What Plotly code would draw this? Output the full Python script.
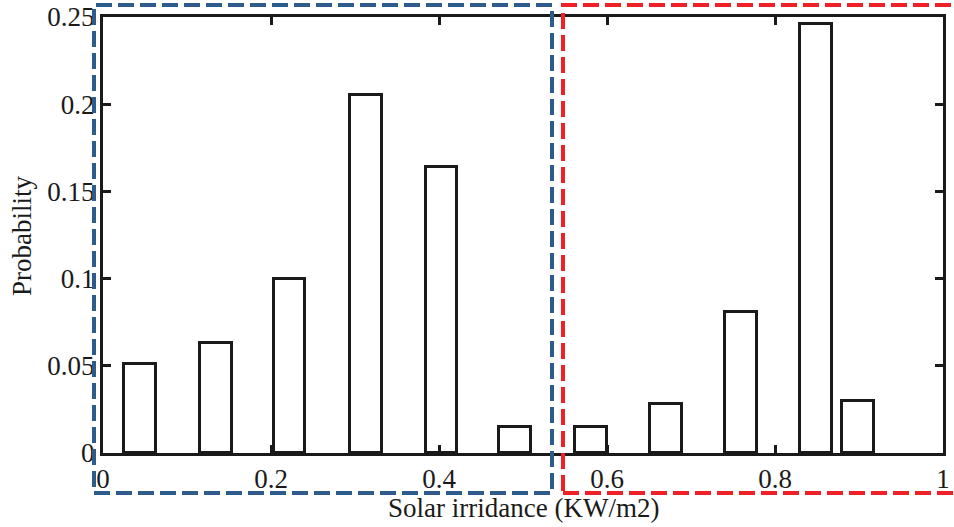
import plotly.graph_objects as go

# Data
irradiance = [0.044, 0.134, 0.222, 0.313, 0.403, 0.491, 0.581, 0.670, 0.760, 0.849, 0.899]
probability = [0.051, 0.063, 0.100, 0.205, 0.164, 0.015, 0.015, 0.028, 0.081, 0.246, 0.030]
x_ticks = [0, 0.2, 0.4, 0.6, 0.8, 1]
x_tick_labels = ["0", "0.2", "0.4", "0.6", "0.8", "1"]
y_ticks = [0, 0.05, 0.1, 0.15, 0.2, 0.25]
y_tick_labels = ["0", "0.05", "0.1", "0.15", "0.2", "0.25"]
x_title = "Solar irridance (KW/m2)"
y_title = "Probability"

FONT = "Liberation Serif, Times New Roman, serif"
INK = "#1a1a1a"

fig = go.Figure()
fig.add_trace(go.Bar(
    x=irradiance, y=probability, width=0.038,
    marker=dict(color="white", line=dict(color=INK, width=3)),
    showlegend=False,
))

L, R, T, B = 103, 11, 17, 74
W, H = 954, 527
pw = W - L - R
ph = H - T - B

def px_x(p):
    return (p - L) / pw

def px_y(p):
    return (H - B - p) / ph

# dashed region boxes
fig.add_shape(type="rect", xref="paper", yref="paper",
              x0=px_x(94), x1=px_x(552), y0=px_y(493), y1=px_y(5),
              line=dict(color="#2e5b8e", width=4, dash="16px,6px"), layer="above")
fig.add_shape(type="rect", xref="paper", yref="paper",
              x0=px_x(563), x1=px_x(975), y0=px_y(493), y1=px_y(5),
              line=dict(color="#ee2129", width=4, dash="16px,6px"), layer="above")

# axis titles
fig.add_annotation(text=x_title, xref="paper", yref="paper",
                   x=px_x(523.5), y=px_y(508), xanchor="center", yanchor="middle",
                   showarrow=False, font=dict(family=FONT, size=27, color=INK))
fig.add_annotation(text=y_title, xref="paper", yref="paper", textangle=-90,
                   x=px_x(22), y=px_y(236), xanchor="center", yanchor="middle",
                   showarrow=False, font=dict(family=FONT, size=27, color=INK))

axis_common = dict(
    showline=True, linecolor=INK, linewidth=3, mirror="allticks",
    ticks="inside", ticklen=8, tickwidth=3, tickcolor=INK,
    showgrid=False, zeroline=False, automargin=False,
    tickfont=dict(family=FONT, size=27, color=INK),
)

fig.update_layout(
    width=W, height=H,
    margin=dict(l=L, r=R, t=T, b=B),
    plot_bgcolor="white", paper_bgcolor="white",
    font=dict(family=FONT, size=27, color=INK),
    bargap=0,
    xaxis=dict(range=[0, 1], tickvals=x_ticks, ticktext=x_tick_labels, **axis_common),
    yaxis=dict(range=[0, 0.25], tickvals=y_ticks, ticktext=y_tick_labels, **axis_common),
)

fig.write_html("out.html", config={"displayModeBar": False},
               post_script="document.body.style.margin='0';document.body.style.overflow='hidden';")
